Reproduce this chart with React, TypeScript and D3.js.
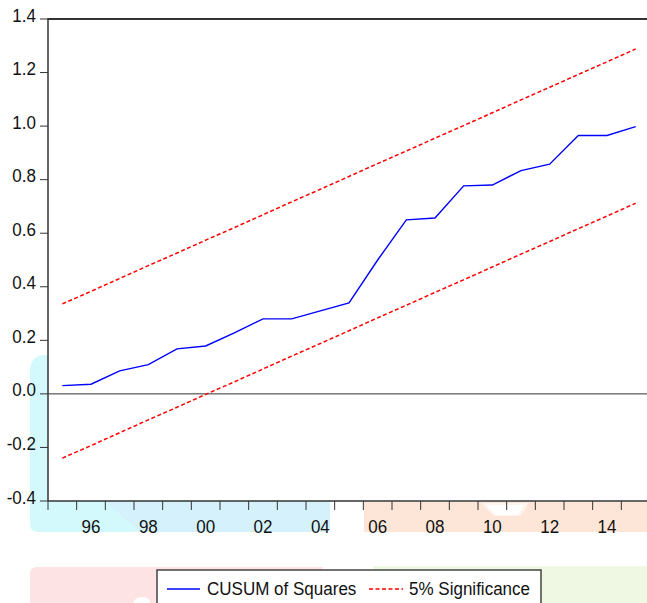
import * as d3 from "d3";

// ── Data ──────────────────────────────────────────────────────────────────────

const years = [
  1995, 1996, 1997, 1998, 1999, 2000, 2001, 2002, 2003, 2004, 2005,
  2006, 2007, 2008, 2009, 2010, 2011, 2012, 2013, 2014, 2015,
];

const cusumSq = [
  0.031, 0.036, 0.086, 0.109, 0.168, 0.179, 0.228, 0.28, 0.28, 0.31, 0.34,
  0.5, 0.65, 0.657, 0.777, 0.78, 0.834, 0.858, 0.965, 0.965, 0.998,
];

const upper5 = [
  0.336, 0.383, 0.431, 0.479, 0.526, 0.574, 0.621, 0.669, 0.717, 0.764, 0.812,
  0.86, 0.907, 0.955, 1.002, 1.05, 1.098, 1.145, 1.193, 1.24, 1.288,
];

const lower5 = [
  -0.24, -0.193, -0.145, -0.097, -0.05, -0.002, 0.045, 0.093, 0.141, 0.188, 0.236,
  0.284, 0.331, 0.379, 0.426, 0.474, 0.522, 0.569, 0.617, 0.664, 0.712,
];

const yTicks = [-0.4, -0.2, 0.0, 0.2, 0.4, 0.6, 0.8, 1.0, 1.2, 1.4];
const xLabelYears = [1996, 1998, 2000, 2002, 2004, 2006, 2008, 2010, 2012, 2014];

// ── Layout ────────────────────────────────────────────────────────────────────

const W = 647;
const H = 603;
const left = 48;
const top = 19;
const bottom = 501;
const right = 650;
const FONT = "'Liberation Sans', Arial, sans-serif";
const AXIS = "#333333";
const TXT = "#111111";

// narrow-ish text like the EViews output
function Label({
  x,
  y,
  anchor = "start",
  children,
}: {
  x: number;
  y: number;
  anchor?: "start" | "middle" | "end";
  children: string;
}) {
  return (
    <g transform={`translate(${x},${y}) scale(0.92,1)`}>
      <text textAnchor={anchor} fontSize={18.5} fill={TXT}>
        {children}
      </text>
    </g>
  );
}

export default function App() {
  const x = d3.scaleLinear().domain([1995, 2016]).range([left, right]);
  const y = d3.scaleLinear().domain([-0.4, 1.4]).range([bottom, top]);

  const line = d3
    .line<number>()
    .x((_d, i) => x(years[i] + 0.5))
    .y((d) => y(d));

  const tickYears = d3.range(1995, 2016);

  return (
    <svg
      width={W}
      height={H}
      style={{ position: "absolute", left: 0, top: 0, background: "#fff" }}
      fontFamily={FONT}
    >
      {/* background blotches */}
      <path
        d="M30,372 Q30,355 45,355 L48,355 L48,501 L330,501 L330,526 Q330,532 322,532 L38,532 Q30,532 30,524 Z"
        fill="#d4f9fc"
      />
      <path d="M105,501 L330,501 L330,526 Q330,532 322,532 L140,532 Z" fill="#d5f1fb" />
      <path d="M364,502 L647,502 L647,532 L364,532 Z" fill="#fde6d8" />
      <path d="M482,503 L528,503 L526,508 L520,516 L494,516 L486,508 Z" fill="#fff4ee" />
      <path d="M486,505 L524,505 L518,515 L496,515 Z" fill="#ffffff" />
      <path d="M30,574 Q30,567 37,567 L323,567 L323,603 L30,603 Z" fill="#fde3e3" />
      <path d="M133,603 Q135,597 142,597 Q150,597 150,603 Z" fill="#ffffff" />
      <path d="M373,566 L647,566 L647,603 L373,603 Z" fill="#eff8e2" />

      {/* frame */}
      <line x1={left} x2={W} y1={top} y2={top} stroke={AXIS} strokeWidth={2} />
      <line x1={left} x2={left} y1={top - 1} y2={bottom} stroke={AXIS} strokeWidth={1.5} />
      <line x1={left} x2={W} y1={bottom} y2={bottom} stroke={AXIS} strokeWidth={1.5} />

      {/* zero line */}
      <line x1={left} x2={W} y1={y(0)} y2={y(0)} stroke={AXIS} strokeWidth={1} />

      {/* y axis */}
      {yTicks.map((t) => (
        <g key={t}>
          <line x1={left - 8} x2={left} y1={y(t)} y2={y(t)} stroke={AXIS} />
          <Label x={36} y={y(t) + 2.5} anchor="end">
            {t.toFixed(1)}
          </Label>
        </g>
      ))}

      {/* x axis */}
      {tickYears.map((t) => (
        <line key={t} x1={x(t)} x2={x(t)} y1={bottom} y2={bottom + 9} stroke={AXIS} />
      ))}
      {xLabelYears.map((t) => (
        <Label key={t} x={x(t + 0.5)} y={533} anchor="middle">
          {String(t % 100).padStart(2, "0")}
        </Label>
      ))}

      {/* series */}
      <path d={line(upper5) ?? ""} fill="none" stroke="#ff0000" strokeWidth={1.5} strokeDasharray="4,2.5" />
      <path d={line(lower5) ?? ""} fill="none" stroke="#ff0000" strokeWidth={1.5} strokeDasharray="4,2.5" />
      <path d={line(cusumSq) ?? ""} fill="none" stroke="#0000ff" strokeWidth={1.4} />

      {/* legend */}
      <rect x={157} y={570} width={384} height={40} fill="#fff" stroke="#444" strokeWidth={1.5} />
      <line x1={167} x2={200} y1={589} y2={589} stroke="#0000ff" strokeWidth={1.4} />
      <Label x={207} y={595}>CUSUM of Squares</Label>
      <line x1={369} x2={403} y1={589} y2={589} stroke="#ff0000" strokeWidth={1.5} strokeDasharray="4,2.5" />
      <Label x={409} y={595}>5% Significance</Label>
    </svg>
  );
}
